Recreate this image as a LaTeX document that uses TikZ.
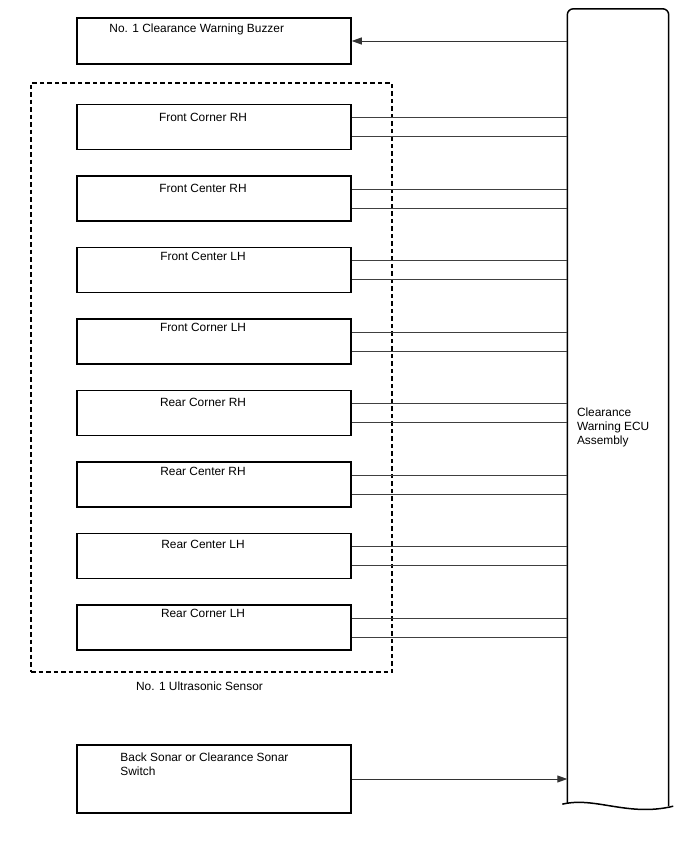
\documentclass[tikz,border=0pt]{standalone}
\usepackage{fontspec}
\setmainfont{Liberation Sans}
\usetikzlibrary{positioning, arrows.meta}
\tikzset{
    lbl/.style={font=\fontsize{11.9}{14}\selectfont, inner sep=0pt},
    unitbox/.style={rectangle, draw=black, line width=1.5pt, minimum width=274pt, minimum height=45pt, inner sep=0pt},
    sensorbox/.style n args={2}{unitbox, label={[lbl, anchor=north, xshift=-11pt, yshift=-#2]north:#1}},
    grpbox/.style={rectangle, draw=black, line width=1.3pt, dash pattern=on 4.5pt off 3pt, inner sep=0pt},
    ecubody/.style={rectangle, minimum width=101pt, minimum height=794pt, inner sep=0pt},
    eculine/.style={line width=1.5pt, color=black},
    wire/.style={line width=0.9pt, color=black!75},
    arrw/.style={-{Triangle[length=10pt, width=7pt]}, line width=0.9pt, color=black!80}
}
\begin{document}
\begin{tikzpicture}[x=1pt, y=-1pt]
        \useasboundingbox (0,0) rectangle (688,852);
        % ECU
        \node[ecubody] (ecu) at (618,406) {};
        \draw[eculine, rounded corners=6pt] (ecu.south west) -- (ecu.north west) -- (ecu.north east) -- ([yshift=-3pt]ecu.south east);
        \draw[eculine] ([xshift=-5pt, yshift=-1pt]ecu.south west) .. controls ([xshift=27.5pt, yshift=7pt]ecu.south west) and ([xshift=-40.5pt, yshift=-14pt]ecu.south east) .. ([xshift=4.5pt, yshift=-3pt]ecu.south east);
        \node[lbl, align=left, anchor=north west] (ecutxt) at ([xshift=9.5pt, yshift=-2pt]ecu.west) {Clearance\\Warning ECU\\Assembly};
        % buzzer
        \node[unitbox, minimum height=46pt, label={[lbl, anchor=north west, xshift=33pt, yshift=-6pt]north west:No. 1 Clearance Warning Buzzer}] (buzzer) at (214,41) {};
        % sensors
        \node[grpbox, minimum width=361pt, minimum height=589pt] (sensors) at (211.5,377.5) {};
        \node[lbl, anchor=north] (grplbl) at ([xshift=-12pt, yshift=-9pt]sensors.south) {No. 1 Ultrasonic Sensor};
        \node[sensorbox={Front Corner RH}{9pt}] (fcornerrh) at (214,127) {};
        \node[sensorbox={Front Center RH}{9pt}] (fcenterrh) at (214,198.5) {};
        \node[sensorbox={Front Center LH}{5pt}] (fcenterlh) at (214,270) {};
        \node[sensorbox={Front Corner LH}{5pt}] (fcornerlh) at (214,341.5) {};
        \node[sensorbox={Rear Corner RH}{8pt}]  (rcornerrh) at (214,413) {};
        \node[sensorbox={Rear Center RH}{6pt}]  (rcenterrh) at (214,484.5) {};
        \node[sensorbox={Rear Center LH}{7pt}]  (rcenterlh) at (214,556) {};
        \node[sensorbox={Rear Corner LH}{5pt}]  (rcornerlh) at (214,627.5) {};
        % switch
        \node[unitbox, minimum height=68pt, label={[lbl, align=left, anchor=north west, xshift=44pt, yshift=-8pt]north west:Back Sonar or Clearance Sonar\\Switch}] (switch) at (214,779) {};
        % connections
        \draw[arrw] (ecu.west |- buzzer.east) -- (buzzer.east);
        \draw[wire] ([yshift=9.5pt]fcornerrh.east) -- ([yshift=9.5pt]fcornerrh.east -| ecu.west);
        \draw[wire] ([yshift=-9.5pt]fcornerrh.east) -- ([yshift=-9.5pt]fcornerrh.east -| ecu.west);
        \draw[wire] ([yshift=9.5pt]fcenterrh.east) -- ([yshift=9.5pt]fcenterrh.east -| ecu.west);
        \draw[wire] ([yshift=-9.5pt]fcenterrh.east) -- ([yshift=-9.5pt]fcenterrh.east -| ecu.west);
        \draw[wire] ([yshift=9.5pt]fcenterlh.east) -- ([yshift=9.5pt]fcenterlh.east -| ecu.west);
        \draw[wire] ([yshift=-9.5pt]fcenterlh.east) -- ([yshift=-9.5pt]fcenterlh.east -| ecu.west);
        \draw[wire] ([yshift=9.5pt]fcornerlh.east) -- ([yshift=9.5pt]fcornerlh.east -| ecu.west);
        \draw[wire] ([yshift=-9.5pt]fcornerlh.east) -- ([yshift=-9.5pt]fcornerlh.east -| ecu.west);
        \draw[wire] ([yshift=9.5pt]rcornerrh.east) -- ([yshift=9.5pt]rcornerrh.east -| ecu.west);
        \draw[wire] ([yshift=-9.5pt]rcornerrh.east) -- ([yshift=-9.5pt]rcornerrh.east -| ecu.west);
        \draw[wire] ([yshift=9.5pt]rcenterrh.east) -- ([yshift=9.5pt]rcenterrh.east -| ecu.west);
        \draw[wire] ([yshift=-9.5pt]rcenterrh.east) -- ([yshift=-9.5pt]rcenterrh.east -| ecu.west);
        \draw[wire] ([yshift=9.5pt]rcenterlh.east) -- ([yshift=9.5pt]rcenterlh.east -| ecu.west);
        \draw[wire] ([yshift=-9.5pt]rcenterlh.east) -- ([yshift=-9.5pt]rcenterlh.east -| ecu.west);
        \draw[wire] ([yshift=9.5pt]rcornerlh.east) -- ([yshift=9.5pt]rcornerlh.east -| ecu.west);
        \draw[wire] ([yshift=-9.5pt]rcornerlh.east) -- ([yshift=-9.5pt]rcornerlh.east -| ecu.west);
        \draw[arrw] (switch.east) -- (switch.east -| ecu.west);
\end{tikzpicture}
\end{document}
